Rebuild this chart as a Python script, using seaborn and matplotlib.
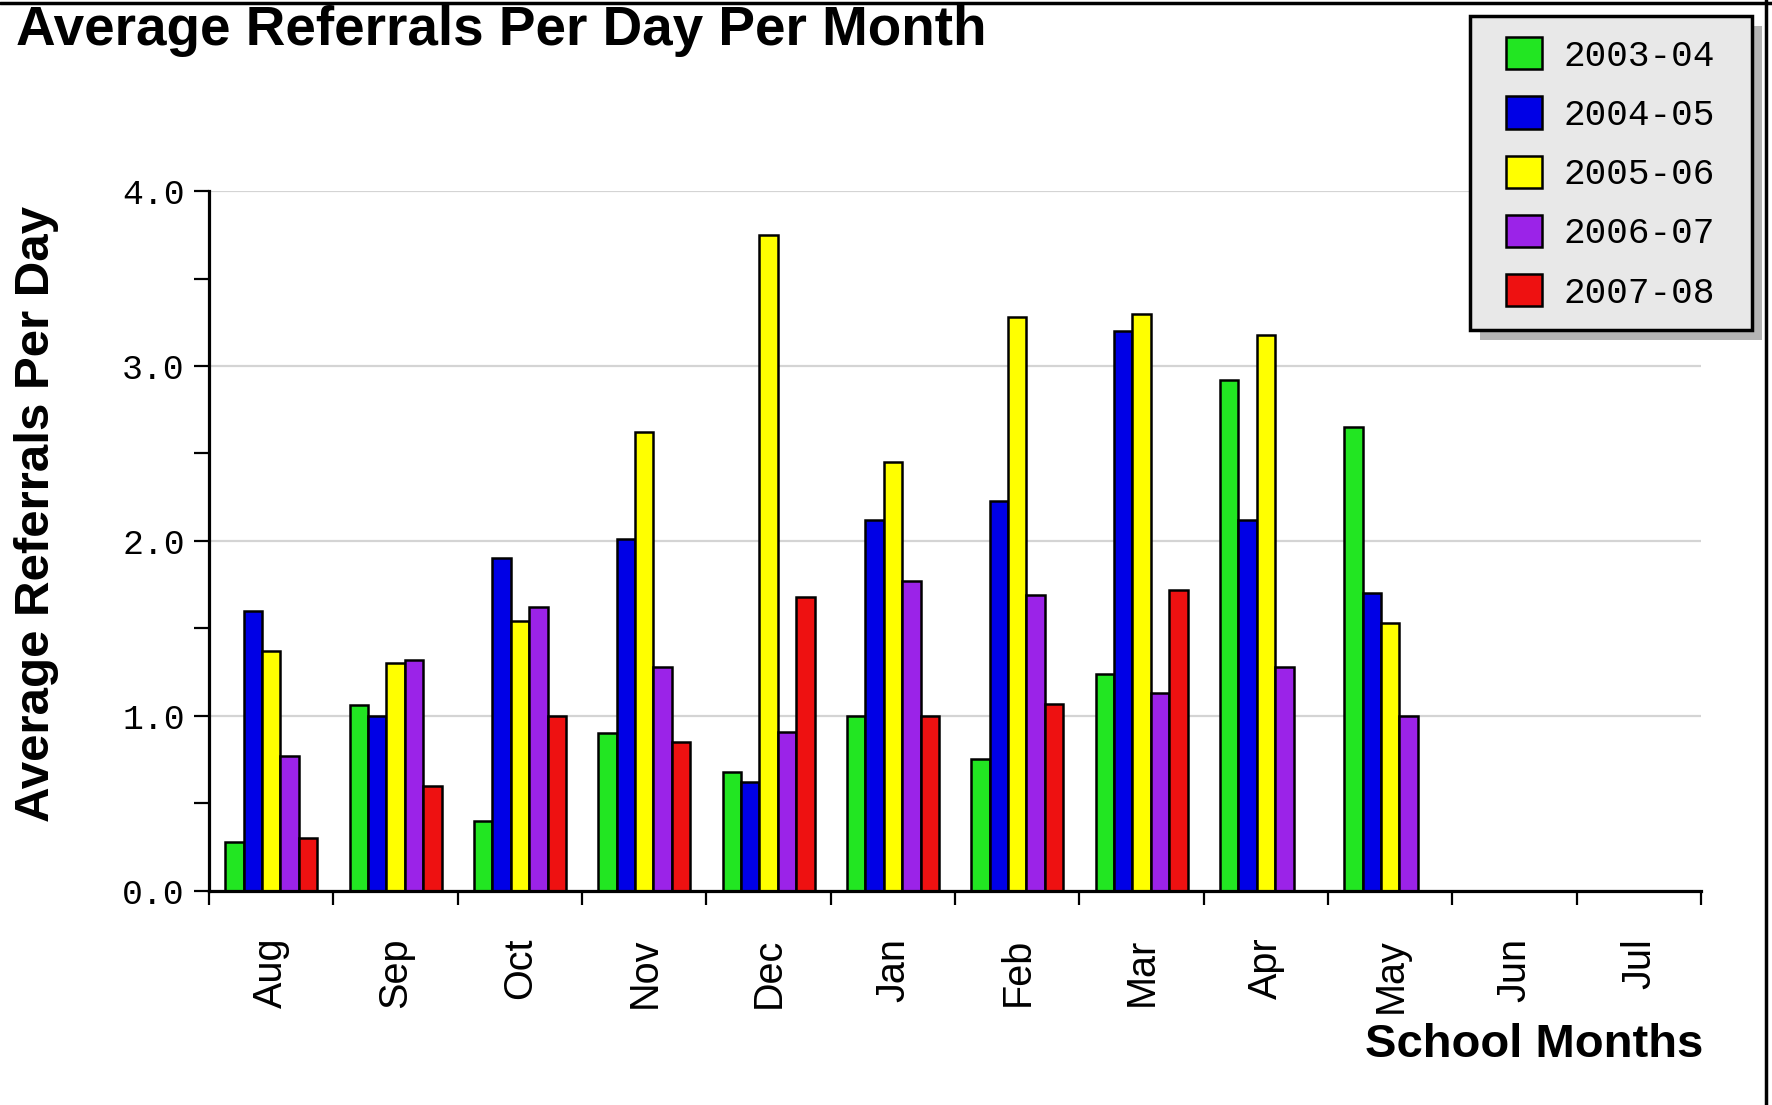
# ============================================================
# Average Referrals Per Day Per Month - grouped bar chart
# ============================================================

import numpy as np
import pandas as pd
import matplotlib
matplotlib.use('Agg')
import matplotlib.pyplot as plt
import seaborn as sns
from matplotlib.ticker import MultipleLocator, FormatStrFormatter
from matplotlib.lines import Line2D
from matplotlib.patches import Rectangle
from matplotlib.font_manager import FontProperties

# ------------------------------------------------------------
# DATA
# ------------------------------------------------------------
months = ['Aug', 'Sep', 'Oct', 'Nov', 'Dec', 'Jan', 'Feb', 'Mar', 'Apr', 'May', 'Jun', 'Jul']
seasons = ['2003-04', '2004-05', '2005-06', '2006-07', '2007-08']

nan = np.nan
ref_2003_04 = [0.28, 1.06, 0.40, 0.90, 0.68, 1.00, 0.75, 1.24, 2.92, 2.65, nan, nan]
ref_2004_05 = [1.60, 1.00, 1.90, 2.01, 0.62, 2.12, 2.23, 3.20, 2.12, 1.70, nan, nan]
ref_2005_06 = [1.37, 1.30, 1.54, 2.62, 3.75, 2.45, 3.28, 3.30, 3.18, 1.53, nan, nan]
ref_2006_07 = [0.77, 1.32, 1.62, 1.28, 0.91, 1.77, 1.69, 1.13, 1.28, 1.00, nan, nan]
ref_2007_08 = [0.30, 0.60, 1.00, 0.85, 1.68, 1.00, 1.07, 1.72, nan, nan, nan, nan]

colors = ['#22e622', '#0000e6', '#ffff00', '#9b23e8', '#ee1111']

series = [ref_2003_04, ref_2004_05, ref_2005_06, ref_2006_07, ref_2007_08]
rows = []
for season, vals in zip(seasons, series):
    for month, v in zip(months, vals):
        if not np.isnan(v):
            rows.append((month, season, v))
df = pd.DataFrame(rows, columns=['Month', 'Season', 'Referrals'])

# ------------------------------------------------------------
# PLOT
# ------------------------------------------------------------
sns.set_style('ticks')
plt.rcParams['font.family'] = ['Liberation Sans', 'DejaVu Sans']
plt.rcParams['text.color'] = 'black'
plt.rcParams['xtick.color'] = 'black'
plt.rcParams['ytick.color'] = 'black'
plt.rcParams['axes.labelcolor'] = 'black'

fig = plt.figure(figsize=(17.72, 11.05), dpi=100)
ax = fig.add_axes([0.118, 0.194, 0.842, 0.633])

sns.barplot(data=df, x='Month', y='Referrals', hue='Season',
            order=months, hue_order=seasons,
            palette=dict(zip(seasons, colors)), saturation=1,
            width=0.74, edgecolor='black', linewidth=1.8,
            errorbar=None, ax=ax)

handles, labels = ax.get_legend_handles_labels()
if ax.get_legend() is not None:
    ax.get_legend().remove()

ax.set_xlim(-0.5, 11.5)
ax.set_ylim(0, 4.0)
ax.set_xlabel('')
ax.set_ylabel('')

# x axis: labels at month centres, tick marks at the boundaries
ax.set_xticks(range(len(months)))
ax.set_xticklabels(months, rotation=90, fontsize=28.5, family='Liberation Sans')
ax.set_xticks(np.arange(-0.5, len(months), 1.0), minor=True)
ax.tick_params(axis='x', which='major', length=0, pad=34)
ax.tick_params(axis='x', which='minor', length=10, width=1.6, color='black', direction='out')

# y axis
ax.set_yticks([0, 1, 2, 3, 4])
ax.yaxis.set_minor_locator(MultipleLocator(0.5))
ax.yaxis.set_major_formatter(FormatStrFormatter('%.1f'))
ax.tick_params(axis='y', which='both', length=10.5, width=1.6, color='black',
               direction='out', pad=7)
for lbl in ax.get_yticklabels():
    lbl.set_fontproperties(FontProperties(family='Liberation Mono', size=25))

ax.yaxis.grid(True, which='major', color='#d4d4d4', linewidth=1.6)
ax.set_axisbelow(True)

sns.despine(ax=ax)
for side in ['left', 'bottom']:
    ax.spines[side].set_linewidth(2.3)
    ax.spines[side].set_color('black')

# titles
fig.text(0.009, 1 - 31 / 1105, 'Average Referrals Per Day Per Month',
         fontsize=39.5, fontweight='bold', ha='left', va='center')
fig.text(0.0205, 1 - 514 / 1105, 'Average Referrals Per Day',
         fontsize=35.5, fontweight='bold', rotation=90, ha='center', va='center')
fig.text(0.961, 1 - 1045 / 1105, 'School Months',
         fontsize=34, fontweight='bold', ha='right', va='center')

# legend box with drop shadow, then the entries on top
box_x, box_y, box_w, box_h = 1470 / 1772, 1 - 330 / 1105, 282 / 1772, 314 / 1105
fig.add_artist(Rectangle((box_x + 10 / 1772, box_y - 10 / 1105), box_w, box_h,
                         transform=fig.transFigure, facecolor='#b4b4b4',
                         edgecolor='none', zorder=3))
fig.add_artist(Rectangle((box_x, box_y), box_w, box_h,
                         transform=fig.transFigure, facecolor='#e8e8e8',
                         edgecolor='black', linewidth=2.5, zorder=4))

leg = fig.legend(handles, labels, loc='upper left',
                 bbox_to_anchor=(1506 / 1772, 1 - 37 / 1105),
                 prop=FontProperties(family='Liberation Mono', size=26),
                 frameon=False, borderpad=0, borderaxespad=0,
                 handlelength=1.0, handleheight=1.0, handletextpad=0.6,
                 labelspacing=0.63)
leg.set_zorder(5)

# picture frame (top and right edges)
fig.add_artist(Line2D([0, 1], [1 - 3 / 1105, 1 - 3 / 1105], transform=fig.transFigure,
                      color='black', linewidth=2.5))
fig.add_artist(Line2D([1 - 6 / 1772, 1 - 6 / 1772], [0, 1], transform=fig.transFigure,
                      color='black', linewidth=2.5))

plt.savefig('out.png', dpi=100)
